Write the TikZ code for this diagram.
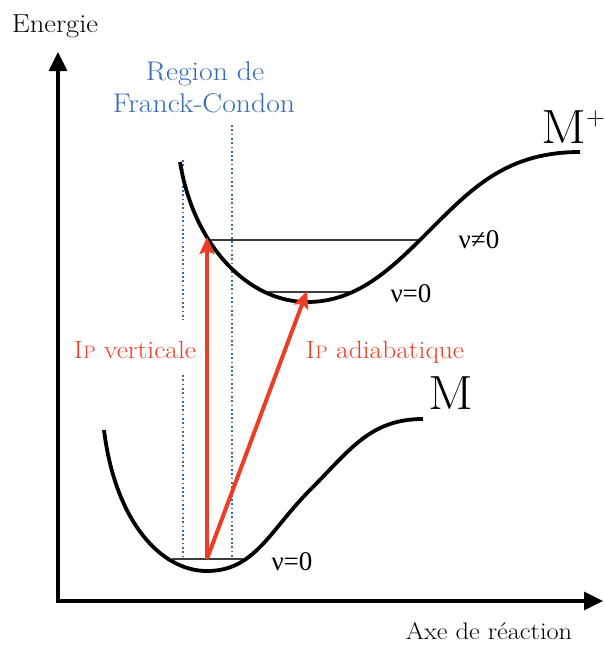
\documentclass[tikz,border=0pt]{standalone}
\usepackage{fontspec}
\usepackage{graphicx}
\usetikzlibrary{arrows.meta}
\newfontfamily\nufont{Liberation Serif}
\definecolor{ipred}{RGB}{236,62,38}
\definecolor{fcblue}{RGB}{55,105,185}
\definecolor{lvlgray}{RGB}{60,60,60}
\newcommand{\sx}[1]{\scalebox{1.1}[1]{#1}}
\newcommand{\ip}{I\kern0.5pt\scalebox{0.72}{P}}
\newcommand{\nulbl}[1]{{\nufont\fontsize{27}{27}\selectfont #1}}
\tikzset{
  axis/.style={line width=3.2pt, -{Triangle[length=19pt,width=18pt]}},
  curve/.style={line width=3.8pt, line join=round},
  level/.style={line width=1.2pt, lvlgray},
  fcline/.style={fcblue, line width=1.7pt, dash pattern=on 1.7pt off 2.6pt},
  iparrow/.style={ipred, line width=4pt, -{Stealth[length=17pt,width=15pt,inset=3pt]}},
  lbl/.style={inner sep=0pt, anchor=base},
}
\begin{document}
\begin{tikzpicture}[x=1pt,y=-1pt]
\useasboundingbox (0,0) rectangle (605,646);
% coordinates
\coordinate (O) at (58,601);
\coordinate (ytip) at (58,52);
\coordinate (xtip) at (603,601);
\coordinate (vstart) at (207,559);
\coordinate (vend) at (207,237);
\coordinate (aend) at (307,291);
% Franck-Condon region
\draw[fcline] (183,160) -- (183,320);
\draw[fcline] (183,375) -- (183,558);
\draw[fcline] (232,125) -- (232,558);
% levels
\draw[level] (208,240) -- (420,240);
\draw[level] (265,292) -- (352,292);
\draw[level] (172,559) -- (243,559);
% curves
\draw[curve] (180,162) .. controls (194,248) and (250,302) .. (307,302)
  .. controls (360,302) and (395,265) .. (435,225)
  .. controls (475,185) and (510,152) .. (580,152);
\draw[curve] (104,430) .. controls (115,520) and (160,571) .. (207,571)
  .. controls (255,571) and (270,530) .. (310,490)
  .. controls (350,450) and (370,419) .. (423,419);
% axes
\draw[axis] (O) -- (ytip);
\draw[axis, line cap=rect] (O) -- (xtip);
% arrows
\draw[iparrow] (vstart) -- (vend);
\draw[iparrow] (vstart) -- (aend);
% labels
\node[lbl, font=\fontsize{26}{26}\selectfont] (energie) at (55,32) {\sx{Energie}};
\node[lbl, font=\fontsize{24}{24}\selectfont] (axe) at (489,639) {\sx{Axe de réaction}};
\node[lbl, fcblue, font=\fontsize{27}{27}\selectfont] (fc1) at (205,80) {\sx{Region de}};
\node[lbl, fcblue, font=\fontsize{27}{27}\selectfont] (fc2) at (204,112) {\sx{Franck-Condon}};
\node[lbl, ipred, font=\fontsize{25}{25}\selectfont] (ipv) at (135,358) {\sx{\ip{} verticale}};
\node[lbl, ipred, font=\fontsize{25}{25}\selectfont] (ipa) at (385,358) {\sx{\ip{} adiabatique}};
\node[lbl, font=\fontsize{48}{48}\selectfont] (M) at (451,409) {\sx{M}};
\node[lbl, anchor=base west, font=\fontsize{48}{48}\selectfont] (Mp) at (541,143) {\sx{M}\raisebox{18pt}{\fontsize{26}{26}\selectfont+}};
\node[lbl] (nu1) at (479,248) {\nulbl{ν≠0}};
\node[lbl] (nu2) at (411,302) {\nulbl{ν=0}};
\node[lbl] (nu3) at (292,570) {\nulbl{ν=0}};
\end{tikzpicture}
\end{document}
